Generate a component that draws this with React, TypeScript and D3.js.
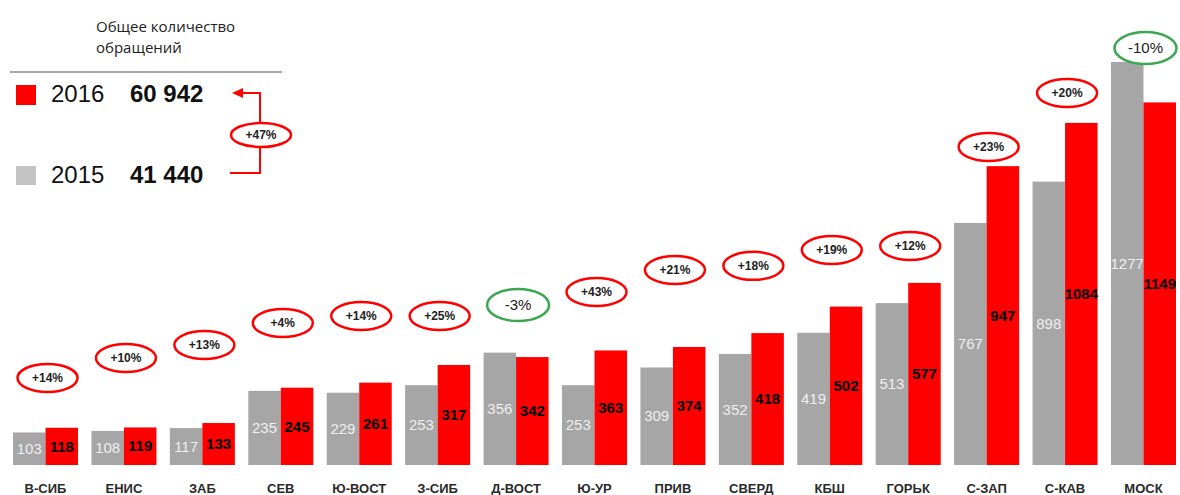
import React from "react";
import * as d3 from "d3";

const regions = ["В-СИБ", "ЕНИС", "ЗАБ", "СЕВ", "Ю-ВОСТ", "З-СИБ", "Д-ВОСТ", "Ю-УР", "ПРИВ", "СВЕРД", "КБШ", "ГОРЬК", "С-ЗАП", "С-КАВ", "МОСК"];
const values2015 = [103, 108, 117, 235, 229, 253, 356, 253, 309, 352, 419, 513, 767, 898, 1277];
const values2016 = [118, 119, 133, 245, 261, 317, 342, 363, 374, 418, 502, 577, 947, 1084, 1149];
const changes = ["+14%", "+10%", "+13%", "+4%", "+14%", "+25%", "-3%", "+43%", "+21%", "+18%", "+19%", "+12%", "+23%", "+20%", "-10%"];
// level (in value units) where each change bubble sits
const bubbleAt = [276, 339, 380, 450, 472, 472, 507, 548, 618, 631, 681, 694, 1008, 1179, 1321];

const years = ["2015", "2016"];
const totals = { "2016": "60 942", "2015": "41 440" };
const totalChange = "+47%";

const W = 1180;
const H = 495;
const GRAY = "#a6a6a6";
const RED = "#ff0000";
const GREEN = "#3da651";
const FONT = "'Liberation Sans', Arial, sans-serif";

export default function App() {
  const x = d3.scaleBand<string>()
    .domain(regions)
    .range([6.3, 1182.7])
    .paddingInner(0.171)
    .paddingOuter(0.0855);

  const xs = d3.scaleBand<string>().domain(years).range([0, x.bandwidth()]);

  const maxVal = d3.max([...values2015, ...values2016]) as number;
  const y = d3.scaleLinear().domain([0, maxVal]).range([465, 62]);

  const series = [
    { year: "2015", values: values2015, fill: GRAY, text: "#efefef", weight: 400 },
    { year: "2016", values: values2016, fill: RED, text: "#000", weight: 700 },
  ];

  return (
    <div style={{ position: "absolute", left: 0, top: 0 }}>
      <svg width={W} height={H} style={{ display: "block", background: "#fff" }}>
        {/* legend block */}
        <g fontFamily="'Open Sans', sans-serif" fill="#222" fontSize={15}>
          <text x={96} y={32}>Общее количество</text>
          <text x={96} y={53}>обращений</text>
        </g>
        <line x1={10} x2={282} y1={72} y2={72} stroke="#8a8a8a" strokeWidth={1.5} />

        <rect x={16} y={85} width={20} height={20} fill={RED} />
        <text x={51} y={102} fontFamily={FONT} fontSize={24} fill="#111">2016</text>
        <text x={130} y={102} fontFamily={FONT} fontSize={24} fontWeight={700} fill="#111">{totals["2016"]}</text>

        <rect x={16} y={166} width={20} height={19} fill="#c4c4c4" />
        <text x={51} y={183} fontFamily={FONT} fontSize={24} fill="#111">2015</text>
        <text x={130} y={183} fontFamily={FONT} fontSize={24} fontWeight={700} fill="#111">{totals["2015"]}</text>

        <path d="M242,93 H260 V123 M260,147 V173 H230" fill="none" stroke={RED} strokeWidth={2} />
        <path d="M232,93 L243,88 L243,98 Z" fill={RED} />
        <ellipse cx={261} cy={135} rx={30} ry={12} fill="#fff" stroke={RED} strokeWidth={2.5} />
        <text x={261} y={135} dy="0.35em" textAnchor="middle" fontFamily={FONT} fontSize={12} fontWeight={700} fill="#222">{totalChange}</text>

        {/* bars */}
        {series.map((s) => (
          <g key={s.year}>
            {s.values.map((v, i) => (
              <rect
                key={i}
                x={(x(regions[i]) as number) + (xs(s.year) as number)}
                y={y(v)}
                width={xs.bandwidth()}
                height={y(0) - y(v)}
                fill={s.fill}
              />
            ))}
            {s.values.map((v, i) => (
              <text
                key={"t" + i}
                x={(x(regions[i]) as number) + (xs(s.year) as number) + xs.bandwidth() / 2}
                y={(y(v) + y(0)) / 2}
                dy="0.35em"
                textAnchor="middle"
                fontFamily={FONT}
                fontSize={15}
                fontWeight={s.weight}
                fill={s.text}
              >
                {v}
              </text>
            ))}
          </g>
        ))}

        {/* category labels */}
        {regions.map((r) => (
          <text
            key={r}
            x={(x(r) as number) + x.bandwidth() / 2}
            y={488}
            dy="0.35em"
            textAnchor="middle"
            fontFamily={FONT}
            fontSize={13}
            fontWeight={700}
            fill="#2a2a2a"
          >
            {r}
          </text>
        ))}

        {/* change bubbles */}
        {changes.map((c, i) => {
          const neg = c.startsWith("-");
          const cx = (x(regions[i]) as number) + x.bandwidth() / 2 + 2;
          const cy = y(bubbleAt[i]);
          return (
            <g key={"b" + i}>
              <ellipse
                cx={cx}
                cy={cy}
                rx={neg ? 31 : 30}
                ry={neg ? 16 : 14}
                fill="#fff"
                stroke={neg ? GREEN : RED}
                strokeWidth={2.5}
              />
              <text
                x={cx}
                y={cy}
                dy="0.35em"
                textAnchor="middle"
                fontFamily={FONT}
                fontSize={neg ? 15 : 12}
                fontWeight={neg ? 400 : 700}
                fill="#222"
              >
                {c}
              </text>
            </g>
          );
        })}
      </svg>
    </div>
  );
}
